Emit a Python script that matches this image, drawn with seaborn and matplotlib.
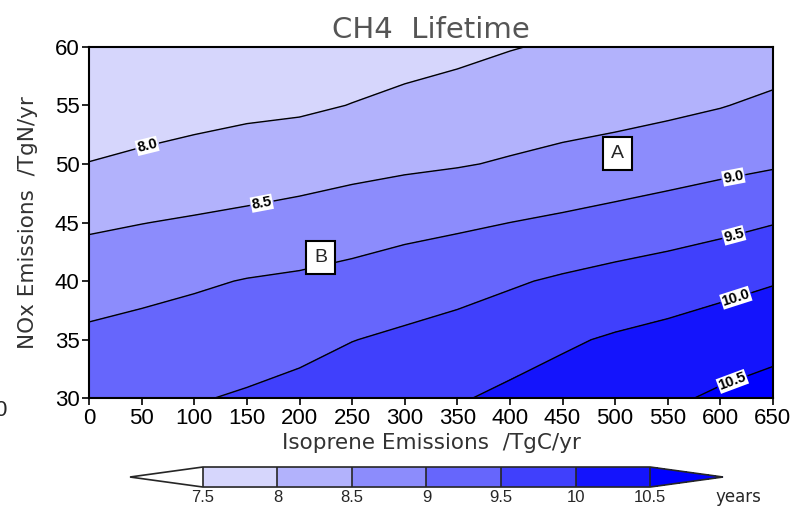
import matplotlib
matplotlib.use("Agg")
import matplotlib.pyplot as plt
import seaborn as sns
import numpy as np

# Isoprene (x) and NOx (y) emission grid
isoprene = [0, 50, 100, 150, 200, 250, 300, 350, 400, 450, 500, 550, 600, 650]
nox = [30, 35, 40, 45, 50, 55, 60]

# CH4 lifetime (years), one row per NOx value
lifetime_nox30 = [9.35, 9.42, 9.47, 9.55, 9.65, 9.76, 9.86, 9.96, 10.10, 10.19, 10.31, 10.43, 10.57, 10.69]
lifetime_nox35 = [9.10, 9.16, 9.22, 9.28, 9.36, 9.49, 9.58, 9.67, 9.78, 9.94, 10.05, 10.14, 10.24, 10.34]
lifetime_nox40 = [8.77, 8.86, 8.94, 9.02, 9.07, 9.15, 9.25, 9.34, 9.45, 9.56, 9.66, 9.75, 9.86, 9.97]
lifetime_nox45 = [8.43, 8.49, 8.55, 8.61, 8.68, 8.76, 8.85, 8.92, 9.00, 9.08, 9.17, 9.26, 9.36, 9.48]
lifetime_nox50 = [8.01, 8.08, 8.15, 8.22, 8.28, 8.36, 8.42, 8.47, 8.54, 8.61, 8.69, 8.78, 8.87, 8.95]
lifetime_nox55 = [7.75, 7.80, 7.85, 7.90, 7.93, 8.01, 8.11, 8.18, 8.25, 8.31, 8.34, 8.40, 8.48, 8.59]
lifetime_nox60 = [7.55, 7.60, 7.65, 7.70, 7.72, 7.78, 7.81, 7.89, 7.98, 8.05, 8.06, 8.13, 8.18, 8.25]

shade_levels = [7.5, 8, 8.5, 9, 9.5, 10, 10.5]
shade_labels = ["7.5", "8", "8.5", "9", "9.5", "10", "10.5"]
line_levels = [8.0, 8.5, 9.0, 9.5, 10.0, 10.5]
# under, 6 bands, over
shade_colors = ["#ffffff", "#d6d6fc", "#b2b2fc", "#8c8cfc", "#6666fc",
                "#4040fc", "#1414fc", "#0000ff"]

# where the line labels and the A / B markers sit
line_label_pos = [(56, 51.2), (164, 46.7), (613, 48.6), (612, 44.2), (614, 38.8), (612, 31.3)]
markers = {"A": (502, 50.9), "B": (220, 42.0)}

sns.set_style("white")
plt.rcParams["font.family"] = ["Liberation Sans", "DejaVu Sans"]

Z = np.array([lifetime_nox30, lifetime_nox35, lifetime_nox40, lifetime_nox45,
              lifetime_nox50, lifetime_nox55, lifetime_nox60])
X, Y = np.meshgrid(isoprene, nox)

fig = plt.figure(figsize=(7.96, 5.08), dpi=100)
ax = fig.add_axes([0.112, 0.216, 0.859, 0.692])

cf = ax.contourf(X, Y, Z, levels=shade_levels, colors=shade_colors, extend="both")
cl = ax.contour(X, Y, Z, levels=line_levels, colors="black", linewidths=1.0)
labels = ax.clabel(cl, fmt="%.1f", fontsize=10.5, inline=True, inline_spacing=2,
                   manual=line_label_pos)
for t in labels:
    t.set_fontweight("bold")
    t.set_bbox(dict(facecolor="white", edgecolor="none", pad=0.5))

for name, (mx, my) in markers.items():
    ax.text(mx, my, name, fontsize=14, ha="center", va="center",
            bbox=dict(facecolor="white", edgecolor="black", linewidth=1.5,
                      boxstyle="square,pad=0.4"))

ax.set_xlim(0, 650)
ax.set_ylim(30, 60)
ax.set_xticks(range(0, 651, 50))
ax.set_yticks(range(30, 61, 5))
ax.tick_params(direction="out", length=5, width=1.2, labelsize=16,
               colors="black", bottom=True, left=True, pad=2)
for s in ax.spines.values():
    s.set_color("black")
    s.set_linewidth(1.5)

ax.set_xlabel("Isoprene Emissions  /TgC/yr", fontsize=15.5, color="#333333",
              labelpad=3, family="DejaVu Sans")
ax.set_ylabel("NOx Emissions  /TgN/yr", fontsize=15.5, color="#333333",
              labelpad=12, family="DejaVu Sans")
ax.set_title("CH4  Lifetime", fontsize=21, color="#555555", pad=6,
             family="DejaVu Sans")

cax = fig.add_axes([0.1633, 0.0413, 0.745, 0.0394])
cb = fig.colorbar(cf, cax=cax, orientation="horizontal", ticks=shade_levels,
                  extendfrac=0.163, drawedges=True)
cb.ax.set_xticklabels(shade_labels)
cb.ax.tick_params(length=0, labelsize=12, pad=2)
cb.outline.set_linewidth(1.2)
cb.dividers.set_linewidth(1.2)
fig.text(715 / 796, 1 - 497 / 508, "years", fontsize=12, ha="left", va="center",
         family="DejaVu Sans")

# partial tick label cut off at the left edge
fig.text(0.0, 1 - 410 / 508, "0", fontsize=16, ha="center", va="center")

fig.savefig("out.png", dpi=100)
